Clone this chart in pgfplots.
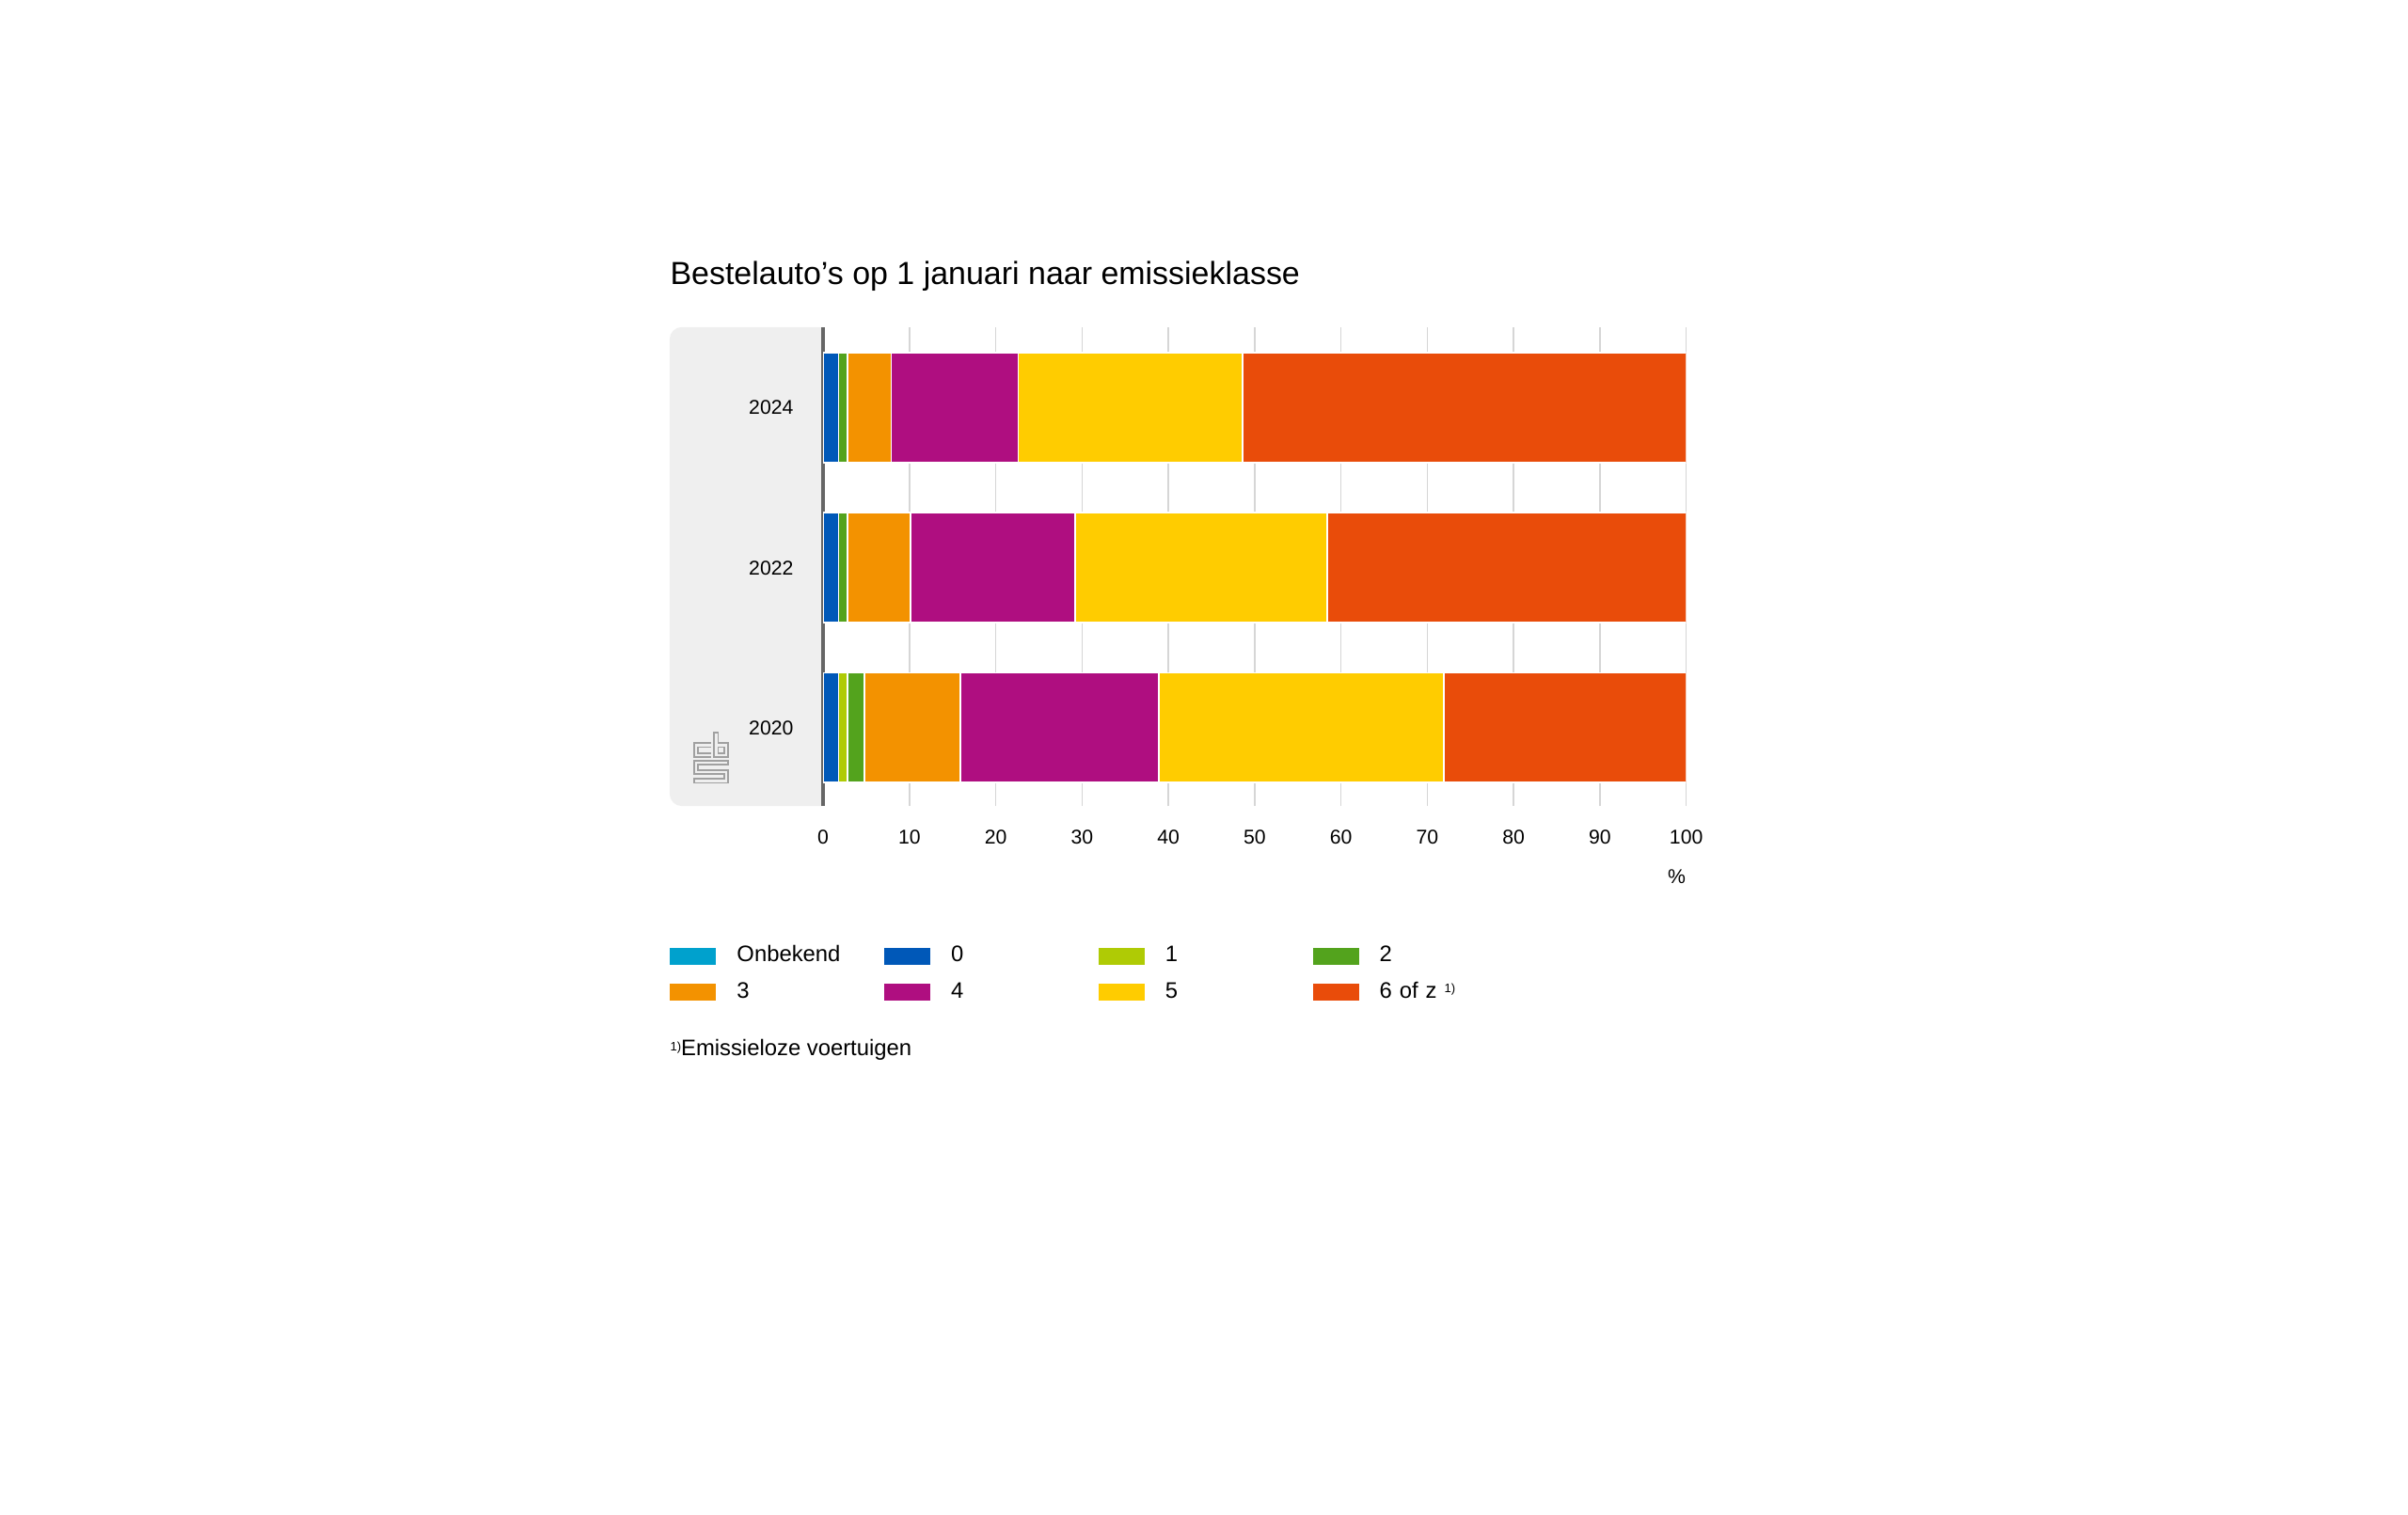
\documentclass[border=0pt]{standalone}
\usepackage{pgfplots}
\pgfplotsset{compat=1.18}
\usepackage{fontspec}
\setmainfont{Liberation Sans}
\definecolor{cOnb}{HTML}{00A1CD}
\definecolor{c0}{HTML}{0058B8}
\definecolor{c1}{HTML}{AFCB05}
\definecolor{c2}{HTML}{53A31D}
\definecolor{c3}{HTML}{F39200}
\definecolor{c4}{HTML}{AF0E80}
\definecolor{c5}{HTML}{FFCC00}
\definecolor{c6}{HTML}{E94C0A}
\definecolor{panel}{HTML}{EFEFEF}
\definecolor{gridc}{HTML}{D6D6D6}
\definecolor{axc}{HTML}{666666}
\definecolor{logoc}{HTML}{A0A0A0}

% year: 0=2020, 1=2022, 2=2024
\pgfplotstableread{
y onb z0 e1 e2 e3 e4 e5 e6
0 0.0 1.8 1.0 2.0 11.1 23.0 33.0 28.1
1 0.0 1.8 0.0 1.0 7.3 19.1 29.2 41.6
2 0.0 1.8 0.0 1.0 5.1 14.7 26.0 51.4
}\datatable

\begin{document}
\begin{tikzpicture}
\path[use as bounding box] (0,0) rectangle (784pt,-493.36pt);
% grey panel
\fill[panel] (268pt,-106.5pt) -- (222pt,-106.5pt) arc[start angle=90, end angle=180, radius=4pt] -- (218pt,-258.5pt) arc[start angle=180, end angle=270, radius=4pt] -- (268pt,-262.5pt) -- cycle;
% title
\node[anchor=west, inner sep=0pt, font=\fontsize{10.4pt}{12pt}\selectfont] at (218pt,-90pt) {Bestelauto’s op 1 januari naar emissieklasse};
% footnote
\node[anchor=west, inner sep=0pt, font=\fontsize{7.3pt}{9pt}\selectfont] at (218pt,-342pt) {\raisebox{0.45ex}{\fontsize{4pt}{5pt}\selectfont 1)}Emissieloze voertuigen};
% logo (simplified)
\begin{scope}[shift={(225.5pt,-238pt)}, x=0.5pt, y=-0.5pt, draw=logoc, line width=0.45pt]
\draw (12,8) -- (1,8) -- (1,17) -- (12,17);
\draw (12,10.5) -- (3.5,10.5) -- (3.5,14.5) -- (12,14.5);
\draw (14,1) -- (14,17) -- (23,17) -- (23,8) -- (16.5,8) -- (16.5,1) -- cycle;
\draw (16.5,10.5) rectangle (20.5,14.5);
\draw (23,19.5) -- (1,19.5) -- (1,28) -- (20.5,28) -- (20.5,31) -- (1,31) -- (1,34) -- (23,34) -- (23,25.5) -- (3.5,25.5) -- (3.5,22) -- (23,22) -- cycle;
\end{scope}
\begin{axis}[
  at={(268pt,-262.5pt)}, anchor=south west,
  width=281pt, height=156pt, scale only axis,
  xbar stacked, bar width=0.6875,
  xmin=0, xmax=100, ymin=-0.49, ymax=2.505,
  axis line style={draw=none},
  xtick={10,20,...,100},
  extra x ticks={0},
  extra x tick style={grid style={draw=axc, line width=1.3pt}},
  xmajorgrids, grid style={draw=gridc, line width=0.5pt},
  ytick={0,1,2}, yticklabels={2020,2022,2024},
  major tick length=0pt,
  tick label style={font=\fontsize{6.5pt}{8pt}\selectfont},
  xticklabel style={anchor=north, inner sep=0pt, yshift=-7.6pt},
  yticklabel style={anchor=east, inner sep=0pt, xshift=-9.5pt},
  /pgf/number format/assume math mode=true,
  xlabel={\%},
  xlabel style={at={(axis description cs:0.989,-0.147)}, anchor=center, inner sep=0pt, font=\fontsize{6.5pt}{8pt}\selectfont},
  legend columns=4,
  legend cell align=left,
  legend style={at={(axis description cs:-0.178,-0.290)}, anchor=north west, draw=none, fill=none, inner sep=0pt,
    row sep=5pt, column sep=0pt,
    font=\fontsize{7.3pt}{9pt}\selectfont,
    nodes={inner sep=0pt, text width=48pt, align=left, text height=5.3pt, text depth=1.5pt}},
  legend image code/.code={\fill[#1, draw=none] (0pt,-2.75pt) rectangle (15pt,2.75pt); \path (21.5pt,0pt);},
  every axis plot/.append style={draw=white, line width=0.5pt},
]
\addplot[fill=cOnb] table[x=onb, y=y] {\datatable};
\addplot[fill=c0] table[x=z0, y=y] {\datatable};
\addplot[fill=c1] table[x=e1, y=y] {\datatable};
\addplot[fill=c2] table[x=e2, y=y] {\datatable};
\addplot[fill=c3] table[x=e3, y=y] {\datatable};
\addplot[fill=c4] table[x=e4, y=y] {\datatable};
\addplot[fill=c5] table[x=e5, y=y] {\datatable};
\addplot[fill=c6] table[x=e6, y=y] {\datatable};
\legend{Onbekend, 0, 1, 2, 3, 4, 5, {6 of z \raisebox{0.45ex}{\fontsize{4pt}{5pt}\selectfont 1)}}}
\end{axis}
\end{tikzpicture}
\end{document}
